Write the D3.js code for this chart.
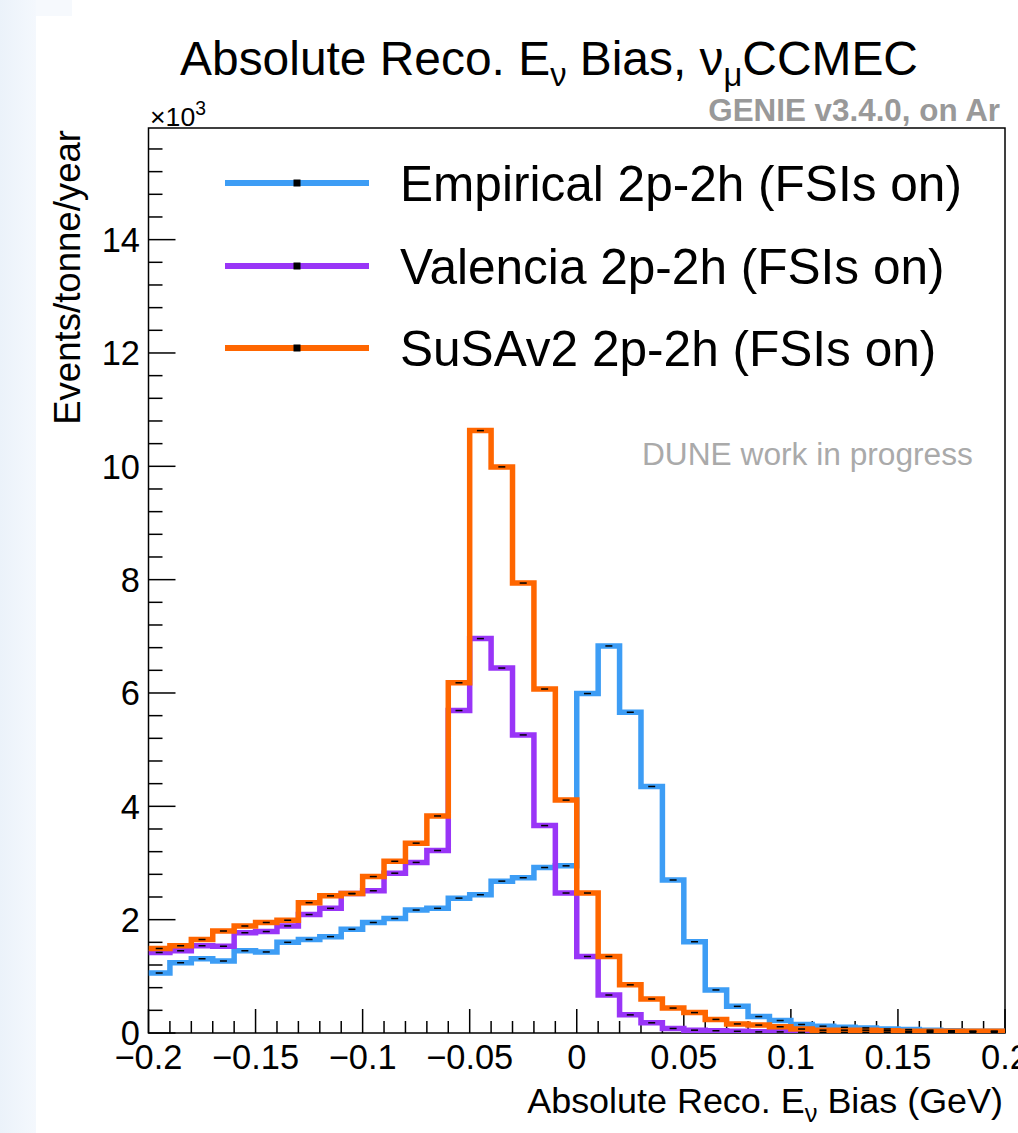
<!DOCTYPE html>
<html><head><meta charset="utf-8">
<script src="https://cdn.jsdelivr.net/npm/d3@7"></script>
<style>body{margin:0;background:#fff}svg{display:block}</style>
</head><body>
<script>
// ---- data (values in units of 10^3 events/tonne/year), 40 bins of width 0.01 GeV from -0.2 to 0.2
const binLow = -0.2, binWidth = 0.01;
const empirical = [1.06,1.24,1.31,1.27,1.45,1.43,1.60,1.65,1.70,1.83,1.95,2.02,2.17,2.20,2.38,2.44,2.68,2.74,2.92,2.95,
                   5.99,6.83,5.66,4.35,2.70,1.61,0.76,0.47,0.29,0.22,0.15,0.12,0.10,0.09,0.07,0.06,0.05,0.04,0.03,0.03];
const valencia  = [1.42,1.45,1.54,1.53,1.77,1.79,1.89,2.09,2.20,2.46,2.51,2.82,3.01,3.22,5.69,6.96,6.44,5.26,3.66,2.47,
                   1.35,0.67,0.32,0.18,0.08,0.05,0.04,0.03,0.02,0.02,0.01,0.01,0.01,0.01,0.01,0.01,0.01,0.01,0.01,0.01];
const susav2    = [1.49,1.54,1.65,1.80,1.89,1.95,1.99,2.30,2.42,2.46,2.76,3.03,3.35,3.83,6.18,10.63,9.99,7.94,6.07,4.11,
                   2.47,1.35,0.85,0.60,0.44,0.36,0.24,0.16,0.14,0.11,0.07,0.05,0.05,0.05,0.04,0.03,0.03,0.03,0.03,0.03];
const seriesNames = ["Empirical 2p-2h (FSIs on)","Valencia 2p-2h (FSIs on)","SuSAv2 2p-2h (FSIs on)"];
const seriesColors = ["#3d9df5","#9935f7","#ff6600"];
const xTicks = [-0.2,-0.15,-0.1,-0.05,0,0.05,0.1,0.15,0.2];
const xTickLabels = ["\u22120.2","\u22120.15","\u22120.1","\u22120.05","0","0.05","0.1","0.15","0.2"];
const yTicks = [0,2,4,6,8,10,12,14];

const W = 1018, H = 1133;
const FONT = "'Liberation Sans', Arial, Helvetica, sans-serif";
const svg = d3.select("body").append("svg").attr("width",W).attr("height",H)
  .style("font-family",FONT);

// scale a text's font so its rendered width matches a target width
function fit(sel, target){
  const fs = +sel.attr("font-size");
  const w = sel.node().getComputedTextLength();
  const k = target / w;
  sel.attr("font-size", fs*k);
  sel.selectAll("tspan").each(function(){
    const t = d3.select(this);
    if (t.attr("font-size")) t.attr("font-size", +t.attr("font-size")*k);
    if (t.attr("dy")) t.attr("dy", +t.attr("dy")*k);
  });
  return sel;
}

// left page strip
const defs = svg.append("defs");
const grad = defs.append("linearGradient").attr("id","strip").attr("x1",0).attr("x2",1).attr("y1",0).attr("y2",0);
grad.append("stop").attr("offset","0%").attr("stop-color","#ebf2fa");
grad.append("stop").attr("offset","100%").attr("stop-color","#f4f8fd");
svg.append("rect").attr("x",0).attr("y",0).attr("width",36).attr("height",H).attr("fill","url(#strip)");
svg.append("rect").attr("x",36).attr("y",0).attr("width",36).attr("height",16).attr("fill","#f6f9fd");

const L = 148.5, R = 1005, T = 128, B = 1033;
const x = d3.scaleLinear().domain([-0.2,0.2]).range([L,R]);
const y = d3.scaleLinear().domain([0,15.97]).range([B,T]);

// frame
svg.append("rect").attr("x",L).attr("y",T).attr("width",R-L).attr("height",B-T)
  .attr("fill","none").attr("stroke","#000").attr("stroke-width",1.5);

// tick label font size from reference width of "0.05"
const probe = svg.append("text").attr("font-size",30).text("0.05");
fit(probe, 67);
const TICKFS = +probe.attr("font-size");
probe.remove();

// y ticks (inside)
const yMinor = d3.range(0,16.0,0.4);
svg.append("g").selectAll("line").data(yMinor).join("line")
  .attr("x1",L).attr("x2",d=>L+(Math.abs(d/2-Math.round(d/2))<1e-6?27:14))
  .attr("y1",d=>y(d)).attr("y2",d=>y(d)).attr("stroke","#000").attr("stroke-width",1.5);
svg.append("g").selectAll("text").data(yTicks).join("text")
  .attr("x",140).attr("y",d=>y(d)).attr("dy","0.36em").attr("text-anchor","end")
  .attr("font-size",TICKFS).text(d=>d);

// x ticks (inside)
const xMinor = d3.range(0,41).map(i=>-0.2+i*0.01);
svg.append("g").selectAll("line").data(xMinor).join("line")
  .attr("x1",d=>x(d)).attr("x2",d=>x(d))
  .attr("y1",B).attr("y2",(d,i)=>B-(i%5===0?24:12)).attr("stroke","#000").attr("stroke-width",1.5);
svg.append("g").selectAll("text").data(xTicks).join("text")
  .attr("x",d=>x(d)).attr("y",1069).attr("text-anchor","middle")
  .attr("font-size",TICKFS).text((d,i)=>xTickLabels[i]);

// histograms
const allSeries = [empirical, valencia, susav2];
const clip = defs.append("clipPath").attr("id","plotclip");
clip.append("rect").attr("x",L).attr("y",T).attr("width",R-L).attr("height",B-T);
const line = d3.line().x(d=>x(d[0])).y(d=>y(d[1]));
const gH = svg.append("g").attr("clip-path","url(#plotclip)");
allSeries.forEach((vals,si)=>{
  const pts = [];
  vals.forEach((v,i)=>{ const x0=binLow+i*binWidth; pts.push([x0,v],[x0+binWidth,v]); });
  gH.append("path").attr("d",line(pts)).attr("fill","none")
    .attr("stroke",seriesColors[si]).attr("stroke-width",5.5).attr("stroke-linejoin","miter");
});
allSeries.forEach((vals,si)=>{
  gH.append("g").selectAll("line").data(vals).join("line")
    .attr("x1",(d,i)=>x(binLow+(i+0.5)*binWidth)-3.5).attr("x2",(d,i)=>x(binLow+(i+0.5)*binWidth)+3.5)
    .attr("y1",d=>y(d)).attr("y2",d=>y(d)).attr("stroke","#000").attr("stroke-width",1.5);
});

// legend
const legY = [183,266,348];
let legFS = null;
seriesNames.forEach((n,i)=>{
  svg.append("line").attr("x1",225).attr("x2",369).attr("y1",legY[i]).attr("y2",legY[i])
    .attr("stroke",seriesColors[i]).attr("stroke-width",6);
  svg.append("rect").attr("x",293.5).attr("y",legY[i]-3.5).attr("width",7).attr("height",7).attr("fill","#000");
  const t = svg.append("text").attr("x",400).attr("y",legY[i]).attr("dy","0.36em").attr("font-size",48).text(n);
  if (i===0){ fit(t,562); legFS = +t.attr("font-size"); } else t.attr("font-size",legFS);
});

// title
const title = svg.append("text").attr("x",549).attr("y",75).attr("text-anchor","middle").attr("font-size",44);
title.append("tspan").text("Absolute Reco. E");
title.append("tspan").attr("dy",10).attr("font-size",30).text("\u03bd");
title.append("tspan").attr("dy",-10).text(" Bias, \u03bd");
title.append("tspan").attr("dy",10).attr("font-size",30).text("\u03bc");
title.append("tspan").attr("dy",-10).text("CCMEC");
fit(title,738);

// x axis title
const xt = svg.append("text").attr("x",1003).attr("y",1113).attr("text-anchor","end").attr("font-size",31);
xt.append("tspan").text("Absolute Reco. E");
xt.append("tspan").attr("dy",8).attr("font-size",22).text("\u03bd");
xt.append("tspan").attr("dy",-8).text(" Bias (GeV)");
fit(xt,476);

// y axis title
const yt = svg.append("text").attr("transform","translate(80,130) rotate(-90)").attr("text-anchor","end")
  .attr("font-size",33).text("Events/tonne/year");
fit(yt,295);

// x10^3
const ex = svg.append("text").attr("x",150).attr("y",126).attr("font-size",29);
ex.append("tspan").text("\u00d710");
ex.append("tspan").attr("dy",-12).attr("font-size",21).text("3");
fit(ex,56);

// GENIE label
const ge = svg.append("text").attr("x",1000).attr("y",121).attr("text-anchor","end").attr("font-size",27)
  .attr("font-weight","bold").attr("fill","#999").text("GENIE v3.4.0, on Ar");
fit(ge,292);

// DUNE label
const du = svg.append("text").attr("x",642).attr("y",465).attr("font-size",30).attr("fill","#aaa").text("DUNE work in progress");
fit(du,331);
</script>
</body></html>
